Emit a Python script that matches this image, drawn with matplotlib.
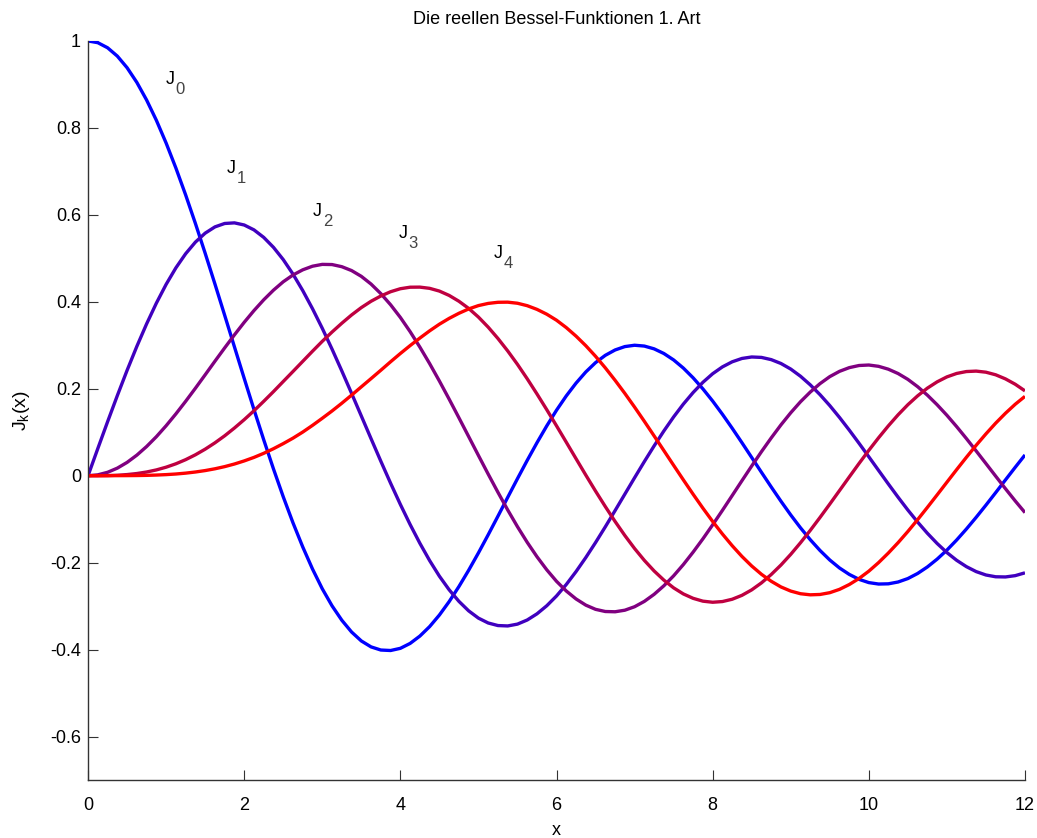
import matplotlib
matplotlib.use("Agg")
import matplotlib.pyplot as plt

plt.rcParams['font.family'] = ['Liberation Sans', 'DejaVu Sans']
plt.rcParams['mathtext.fontset'] = 'custom'
plt.rcParams['mathtext.rm'] = 'Liberation Sans'
plt.rcParams['mathtext.it'] = 'Liberation Sans'

# sample grid on x, step 1/8 from 0 to 12
x = [i / 8 for i in range(97)]

# curve values (one row per unit of x)
j0 = [1.0, 0.9961, 0.9844, 0.9652, 0.9385, 0.9047, 0.8642, 0.8176,
      0.7652, 0.7078, 0.6459, 0.5803, 0.5118, 0.4411, 0.3690, 0.2964,
      0.2239, 0.1524, 0.0827, 0.0156, -0.0484, -0.1084, -0.1639, -0.2147,
      -0.2601, -0.2993, -0.3324, -0.3595, -0.3801, -0.3938, -0.4010, -0.4021,
      -0.3971, -0.3858, -0.3689, -0.3471, -0.3205, -0.2896, -0.2550, -0.2175,
      -0.1776, -0.1359, -0.0931, -0.0498, -0.0068, 0.0353, 0.0759, 0.1145,
      0.1506, 0.1835, 0.2129, 0.2386, 0.2601, 0.2769, 0.2892, 0.2970,
      0.3001, 0.2982, 0.2918, 0.2811, 0.2663, 0.2475, 0.2251, 0.1997,
      0.1717, 0.1413, 0.1092, 0.0759, 0.0419, 0.0078, -0.0259, -0.0588,
      -0.0903, -0.1199, -0.1472, -0.1720, -0.1939, -0.2123, -0.2271, -0.2384,
      -0.2459, -0.2492, -0.2487, -0.2445, -0.2366, -0.2249, -0.2099, -0.1919,
      -0.1712, -0.1479, -0.1226, -0.0957, -0.0677, -0.0389, -0.0097, 0.0193,
      0.0477]

j1 = [0.0, 0.0624, 0.1240, 0.1842, 0.2423, 0.2975, 0.3492, 0.3969,
      0.4401, 0.4781, 0.5106, 0.5373, 0.5579, 0.5723, 0.5802, 0.5816,
      0.5767, 0.5655, 0.5482, 0.5253, 0.4971, 0.4637, 0.4258, 0.3841,
      0.3391, 0.2912, 0.2411, 0.1896, 0.1374, 0.0851, 0.0333, -0.0173,
      -0.0660, -0.1122, -0.1554, -0.1952, -0.2311, -0.2624, -0.2890, -0.3109,
      -0.3276, -0.3388, -0.3447, -0.3456, -0.3414, -0.3319, -0.3177, -0.2992,
      -0.2767, -0.2503, -0.2206, -0.1883, -0.1538, -0.1176, -0.0803, -0.0425,
      -0.0047, 0.0325, 0.0685, 0.1029, 0.1352, 0.1648, 0.1914, 0.2148,
      0.2346, 0.2503, 0.2620, 0.2697, 0.2731, 0.2721, 0.2670, 0.2581,
      0.2453, 0.2288, 0.2090, 0.1864, 0.1613, 0.1339, 0.1048, 0.0745,
      0.0435, 0.0122, -0.0190, -0.0495, -0.0789, -0.1066, -0.1324, -0.1559,
      -0.1768, -0.1946, -0.2092, -0.2206, -0.2284, -0.2325, -0.2329, -0.2299,
      -0.2234]

j2 = [0.0, 0.0020, 0.0078, 0.0174, 0.0306, 0.0473, 0.0671, 0.0897,
      0.1149, 0.1422, 0.1711, 0.2012, 0.2321, 0.2633, 0.2940, 0.3240,
      0.3528, 0.3798, 0.4046, 0.4268, 0.4461, 0.4617, 0.4736, 0.4819,
      0.4861, 0.4857, 0.4808, 0.4719, 0.4586, 0.4408, 0.4188, 0.3932,
      0.3641, 0.3314, 0.2958, 0.2579, 0.2178, 0.1761, 0.1333, 0.0900,
      0.0466, 0.0037, -0.0382, -0.0788, -0.1173, -0.1533, -0.1864, -0.2164,
      -0.2429, -0.2652, -0.2835, -0.2977, -0.3074, -0.3124, -0.3130, -0.3094,
      -0.3014, -0.2891, -0.2729, -0.2532, -0.2303, -0.2043, -0.1757, -0.1452,
      -0.1130, -0.0797, -0.0457, -0.0115, 0.0223, 0.0553, 0.0869, 0.1170,
      0.1448, 0.1701, 0.1924, 0.2118, 0.2279, 0.2401, 0.2486, 0.2535,
      0.2546, 0.2516, 0.2450, 0.2350, 0.2216, 0.2048, 0.1853, 0.1632,
      0.1390, 0.1129, 0.0854, 0.0569, 0.0280, -0.0011, -0.0299, -0.0580,
      -0.0849]

j3 = [0.0, 0.0000, 0.0003, 0.0011, 0.0026, 0.0050, 0.0085, 0.0133,
      0.0196, 0.0274, 0.0369, 0.0481, 0.0610, 0.0756, 0.0918, 0.1097,
      0.1289, 0.1494, 0.1711, 0.1935, 0.2167, 0.2398, 0.2631, 0.2864,
      0.3091, 0.3305, 0.3507, 0.3697, 0.3867, 0.4013, 0.4134, 0.4232,
      0.4301, 0.4336, 0.4338, 0.4310, 0.4247, 0.4147, 0.4013, 0.3848,
      0.3649, 0.3417, 0.3156, 0.2870, 0.2561, 0.2229, 0.1880, 0.1519,
      0.1148, 0.0771, 0.0392, 0.0015, -0.0354, -0.0710, -0.1052, -0.1375,
      -0.1675, -0.1948, -0.2191, -0.2402, -0.2580, -0.2720, -0.2821, -0.2886,
      -0.2911, -0.2895, -0.2842, -0.2752, -0.2626, -0.2465, -0.2273, -0.2054,
      -0.1809, -0.1542, -0.1258, -0.0960, -0.0653, -0.0341, -0.0028, 0.0282,
      0.0583, 0.0872, 0.1146, 0.1401, 0.1633, 0.1837, 0.2014, 0.2159,
      0.2273, 0.2352, 0.2396, 0.2406, 0.2381, 0.2321, 0.2227, 0.2104,
      0.1951]

j4 = [0.0, 0.0000, 0.0000, 0.0001, 0.0002, 0.0004, 0.0008, 0.0015,
      0.0025, 0.0039, 0.0059, 0.0085, 0.0118, 0.0159, 0.0209, 0.0269,
      0.0340, 0.0421, 0.0515, 0.0621, 0.0738, 0.0864, 0.1004, 0.1158,
      0.1321, 0.1489, 0.1667, 0.1853, 0.2044, 0.2234, 0.2426, 0.2621,
      0.2811, 0.2993, 0.3166, 0.3332, 0.3485, 0.3619, 0.3736, 0.3836,
      0.3913, 0.3963, 0.3989, 0.3992, 0.3967, 0.3911, 0.3826, 0.3715,
      0.3577, 0.3407, 0.3211, 0.2991, 0.2747, 0.2481, 0.2195, 0.1894,
      0.1578, 0.1251, 0.0916, 0.0578, 0.0239, -0.0097, -0.0427, -0.0747,
      -0.1053, -0.1341, -0.1610, -0.1857, -0.2077, -0.2268, -0.2428, -0.2559,
      -0.2654, -0.2715, -0.2740, -0.2732, -0.2691, -0.2614, -0.2503, -0.2364,
      -0.2196, -0.1999, -0.1779, -0.1540, -0.1283, -0.1011, -0.0729, -0.0441,
      -0.0150, 0.0140, 0.0424, 0.0700, 0.0962, 0.1209, 0.1436, 0.1643,
      0.1825]

curves = [j0, j1, j2, j3, j4]
colors = [(0, 0, 1), (0.25, 0, 0.75), (0.5, 0, 0.5), (0.75, 0, 0.25), (1, 0, 0)]

# label positions (x, y)
label_x = [0.99, 1.78, 2.88, 3.98, 5.19]
label_y = [0.90, 0.697, 0.598, 0.547, 0.501]

fig = plt.figure(figsize=(10.37, 8.38), dpi=100)
ax = fig.add_axes([0.0849, 0.0692, 0.9035, 0.8819])

for k, data in enumerate(curves):
    ax.plot(x, data, color=colors[k], lw=2.4, solid_joinstyle='round',
            solid_capstyle='butt')

# J with a lowered, thin subscript like the original
for k in range(5):
    ax.text(label_x[k], label_y[k], 'J', fontsize=13, ha='left',
            va='baseline', color='black')
    ax.annotate(str(k), (label_x[k], label_y[k]), xytext=(10, -10),
                textcoords='offset pixels', fontsize=12, ha='left',
                va='baseline', color='#444444')

ax.set_xlim(0, 12)
ax.set_ylim(-0.7, 1)
ax.set_xticks([0, 2, 4, 6, 8, 10, 12])
ax.set_yticks([-0.6, -0.4, -0.2, 0, 0.2, 0.4, 0.6, 0.8, 1])
ax.set_yticklabels(['-0.6', '-0.4', '-0.2', '0', '0.2', '0.4', '0.6', '0.8', '1'])
ax.tick_params(direction='in', length=7, width=0.8, labelsize=13,
               color='#333333')
ax.tick_params(axis='x', pad=12)
ax.tick_params(axis='y', pad=5)
for side in ['top', 'right']:
    ax.spines[side].set_visible(False)
for side in ['left', 'bottom']:
    ax.spines[side].set_color('#333333')
    ax.spines[side].set_linewidth(1.0)

ax.set_title('Die reellen Bessel-Funktionen 1. Art', fontsize=13, pad=12)
ax.set_xlabel('x', fontsize=13, labelpad=6)
ax.set_ylabel(r'$\mathregular{J_k(x)}$', fontsize=14, labelpad=13)

plt.savefig('out.png', dpi=100)
